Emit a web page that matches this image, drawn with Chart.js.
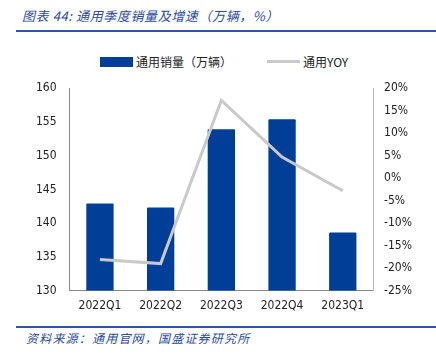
<!DOCTYPE html>
<html>
<head>
<meta charset="utf-8">
<script src="https://cdn.jsdelivr.net/npm/chart.js@4"></script>
<style>
  body { margin: 0; width: 436px; height: 354px; background: #fff; position: relative; overflow: hidden; font-family: "Noto Sans CJK SC", sans-serif; }
  .title { position: absolute; left: 22px; top: 6px; font-size: 13px; color: #2a4b9b; font-style: italic; letter-spacing: 0.6px; }
  .rule { position: absolute; left: 16px; right: 0; height: 2px; background: #2d56a8; }
  .footer { position: absolute; left: 26px; top: 329px; font-size: 12px; color: #2a4b9b; font-style: italic; letter-spacing: 1.2px; }
  .legend { position: absolute; top: 53px; font-size: 12px; color: #222; display: flex; align-items: center; }
  .swatch-bar { width: 33px; height: 10px; background: #003e98; margin-right: 3px; }
  .swatch-line { width: 33px; height: 3px; background: #c9c9c9; margin-right: 3px; }
  #wrap { position: absolute; left: 0; top: 73px; width: 436px; height: 248px; }
</style>
</head>
<body>
<div class="title">图表 44:  通用季度销量及增速（万辆，%）</div>
<div class="rule" style="top:30px"></div>
<div class="legend" style="left:100px"><div class="swatch-bar"></div>通用销量（万辆）</div>
<div class="legend" style="left:267px"><div class="swatch-line"></div>通用YOY</div>
<div id="wrap"><canvas id="chart"></canvas></div>
<div class="rule" style="top:326px"></div>
<div class="footer">资料来源：通用官网，国盛证券研究所</div>
<script>
const quarters = ['2022Q1', '2022Q2', '2022Q3', '2022Q4', '2023Q1'];
const sales = [142.9, 142.3, 153.9, 155.4, 138.6];
const yoy = [-18.1, -19.0, 17.3, 4.7, -2.8];
const leftTicks = [130, 135, 140, 145, 150, 155, 160];
const rightTicks = [-25, -20, -15, -10, -5, 0, 5, 10, 15, 20];

const tickFont = { family: '"DejaVu Sans Condensed", "DejaVu Sans"', size: 12 };

new Chart(document.getElementById('chart'), {
  data: {
    labels: quarters,
    datasets: [{
      type: 'line',
      label: '通用YOY',
      data: yoy,
      yAxisID: 'y1',
      borderColor: '#c9c9c9',
      borderWidth: 3,
      pointRadius: 0,
      tension: 0,
      order: 0
    }, {
      type: 'bar',
      label: '通用销量（万辆）',
      data: sales,
      yAxisID: 'y',
      backgroundColor: '#003e98',
      barPercentage: 0.45,
      categoryPercentage: 1,
      borderRadius: 1,
      order: 1
    }]
  },
  options: {
    responsive: true,
    maintainAspectRatio: false,
    animation: false,
    layout: { padding: { left: 28, right: 18, top: 5, bottom: 0 } },
    plugins: { legend: { display: false }, tooltip: { enabled: false } },
    scales: {
      x: {
        grid: { display: false, drawTicks: false },
        border: { color: '#888' },
        ticks: { color: '#222', font: tickFont, padding: 8 }
      },
      y: {
        position: 'left',
        min: leftTicks[0],
        max: leftTicks[leftTicks.length - 1],
        afterBuildTicks: axis => { axis.ticks = leftTicks.map(v => ({ value: v })); },
        grid: { display: false, drawOnChartArea: false, drawTicks: true, tickLength: 5, tickColor: '#888' },
        border: { color: '#888' },
        ticks: { color: '#222', font: tickFont, padding: 8 }
      },
      y1: {
        position: 'right',
        min: rightTicks[0],
        max: rightTicks[rightTicks.length - 1],
        afterBuildTicks: axis => { axis.ticks = rightTicks.map(v => ({ value: v })); },
        grid: { display: false, drawOnChartArea: false, drawTicks: true, tickLength: 5, tickColor: '#888' },
        border: { color: '#bbb' },
        ticks: { color: '#222', font: tickFont, padding: 6, callback: v => v + '%' }
      }
    }
  }
});
</script>
</body>
</html>
